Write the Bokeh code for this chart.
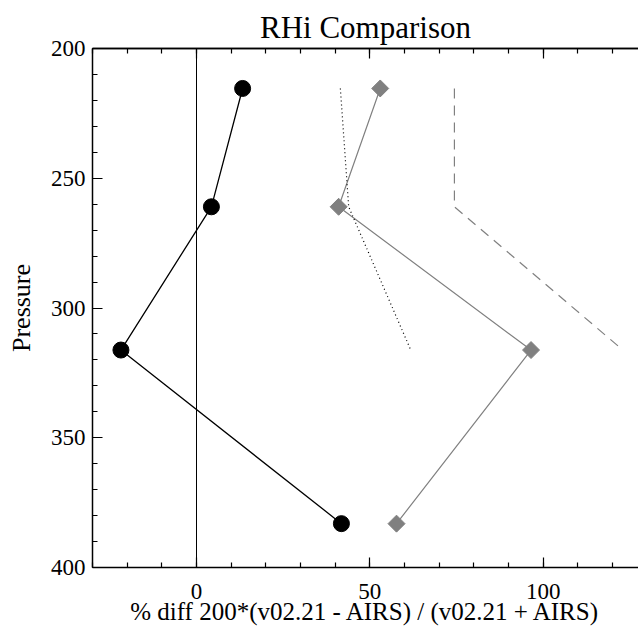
import numpy as np
from bokeh.plotting import figure
from bokeh.models import Range1d, LinearAxis, SingleIntervalTicker, FixedTicker, Span, Title
from bokeh.embed import file_html
from bokeh.resources import INLINE

# ---- data ----
pressure = [215.4, 261.0, 316.2, 383.1]
black_diff = [13.3, 4.3, -21.8, 41.8]
grey_diff = [53.0, 41.0, 96.5, 57.7]
dotted_pressure = [215.4, 261.0, 316.2]
dotted_diff = [41.5, 43.9, 61.8]
dashed_pressure = [215.4, 261.0, 316.2]
dashed_diff = [74.4, 74.4, 123.0]
zero_line = 0
top_minor_ticks = [-30, -20, -10, 0, 10, 20, 30, 40, 50, 60, 70, 80, 90, 100, 110, 120]
top_major_ticks = [0, 50, 100]
x_title = "% diff 200*(v02.21 - AIRS) / (v02.21 + AIRS)"

FONT = "Liberation Serif"
GREY = "#808080"

p = figure(width=638, height=627,
           x_range=Range1d(-30, 127.5), y_range=Range1d(400, 200),
           x_axis_type=None, y_axis_type=None,
           output_backend="svg", toolbar_location=None,
           min_border_left=92, min_border_right=0,
           min_border_top=48, min_border_bottom=60)
p.outline_line_color = None
p.background_fill_color = "white"
p.border_fill_color = "white"

p.title.text = "RHi Comparison"
p.title.align = "center"
p.title.text_font = FONT
p.title.text_font_size = "31px"
p.title.text_font_style = "normal"
p.title.text_color = "black"
p.title.standoff = 8

def style_axis(ax):
    ax.axis_line_color = "black"
    ax.axis_line_width = 1.5
    ax.major_tick_in = 10
    ax.major_tick_out = 0
    ax.minor_tick_in = 5
    ax.minor_tick_out = 0
    ax.major_tick_line_color = "black"
    ax.minor_tick_line_color = "black"
    ax.major_tick_line_width = 1.2
    ax.minor_tick_line_width = 1.2
    ax.major_label_text_font = FONT
    ax.major_label_text_font_size = "23px"
    ax.major_label_text_color = "black"
    ax.axis_label_text_font = FONT
    ax.axis_label_text_font_style = "normal"
    ax.axis_label_text_color = "black"

xb = LinearAxis(ticker=SingleIntervalTicker(interval=50, num_minor_ticks=5))
style_axis(xb)
xb.major_label_standoff = 16
p.add_layout(xb, "below")

# x axis title just under the tick labels
xt = Title(text=x_title, align="center", text_font=FONT, text_font_size="25px",
           text_font_style="normal", text_color="black", standoff=-11)
p.add_layout(xt, "below")

# top axis: minor ticks, then the longer major ticks (no labels)
xa = LinearAxis(ticker=FixedTicker(ticks=[], minor_ticks=top_minor_ticks))
style_axis(xa)
p.add_layout(xa, "above")
xa2 = LinearAxis(ticker=FixedTicker(ticks=[], minor_ticks=top_major_ticks))
style_axis(xa2)
xa2.minor_tick_in = 10
p.add_layout(xa2, "above")

yl = LinearAxis(ticker=SingleIntervalTicker(interval=50, num_minor_ticks=5),
                axis_label="Pressure")
style_axis(yl)
yl.axis_label_text_font_size = "26px"
yl.major_label_standoff = 7
yl.axis_label_standoff = 12
p.add_layout(yl, "left")

p.add_layout(Span(location=zero_line, dimension="height", line_color="black", line_width=1))

# black series
p.line(black_diff, pressure, line_color="black", line_width=1.3)
p.scatter(black_diff, pressure, marker="circle", size=16, fill_color="black", line_color="black")

# grey series
p.line(grey_diff, pressure, line_color=GREY, line_width=1.2)
p.scatter(grey_diff, pressure, marker="square", size=12, angle=np.pi / 4,
          fill_color=GREY, line_color=GREY)

# dotted and dashed
p.line(dotted_diff, dotted_pressure, line_color="black", line_width=1.2, line_dash="1 3")
p.line(dashed_diff, dashed_pressure, line_color=GREY, line_width=1.2, line_dash="10 7")

open("out.html", "w").write(file_html(p, INLINE))
